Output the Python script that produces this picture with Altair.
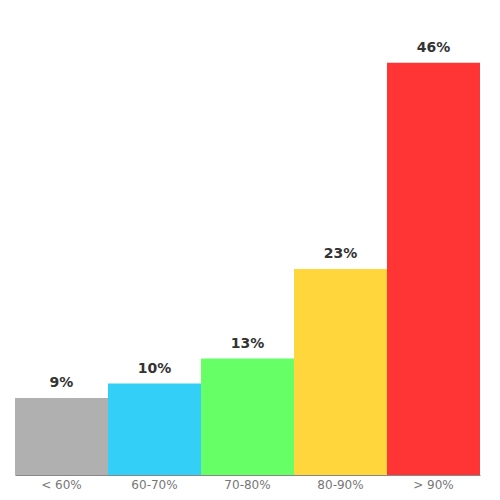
import altair as alt
import pandas as pd

categories = ["< 60%", "60-70%", "70-80%", "80-90%", "> 90%"]
values = [8.6, 10.2, 13.0, 23.0, 46.0]
labels = ["9%", "10%", "13%", "23%", "46%"]
colors = ["#b0b0b0", "#33cff6", "#66ff66", "#ffd63c", "#ff3535"]

df = pd.DataFrame({"cat": categories, "val": values, "label": labels})

x = alt.X("cat:N", sort=categories, title=None,
          scale=alt.Scale(paddingInner=0, paddingOuter=0),
          axis=alt.Axis(labelAngle=0, labelColor="#777777", labelFontSize=12,
                        labelFont="DejaVu Sans", domainColor="#888888", ticks=False,
                        labelPadding=4))
y = alt.Y("val:Q", scale=alt.Scale(domain=[0, 50]), axis=None)

bars = alt.Chart(df).mark_bar().encode(
    x=x, y=y,
    color=alt.Color("cat:N", scale=alt.Scale(domain=categories, range=colors), legend=None),
)
text = alt.Chart(df).mark_text(baseline="bottom", dy=-8, fontSize=14, fontWeight="bold",
                               font="DejaVu Sans", color="#333333").encode(
    x=alt.X("cat:N", sort=categories), y=y, text="label:N")

chart = (bars + text).properties(
    width=465, height=448,
    padding={"left": 7, "top": 19, "right": 5, "bottom": 5},
).configure_view(stroke=None)

chart.save("out.html", embed_options={"renderer": "svg", "actions": False})
